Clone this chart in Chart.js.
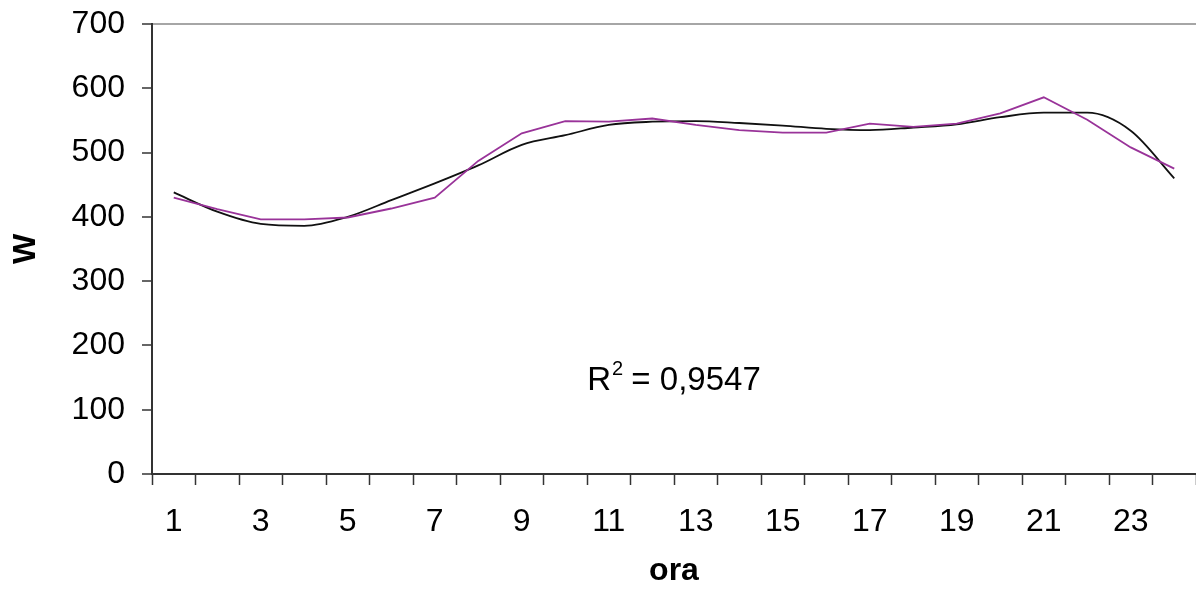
<!DOCTYPE html>
<html>
<head>
<meta charset="utf-8">
<script src="https://cdn.jsdelivr.net/npm/chart.js@4/dist/chart.umd.min.js"></script>
<style>
  body { margin: 0; background: #fff; }
  #wrap { width: 1196px; height: 590px; position: relative; }
</style>
</head>
<body>
<div id="wrap"><canvas id="myChart"></canvas></div>
<script>
// hours of the day and measured power (W), plus the fitted trend line
var hours = ['1','2','3','4','5','6','7','8','9','10','11','12','13','14','15','16','17','18','19','20','21','22','23','24'];
var power = [430, 412, 396, 396, 399, 413, 430, 487, 530, 549, 548, 553, 543, 535, 531, 531, 545, 540, 545, 561, 586, 551, 508, 475];
var trend = [438, 408, 389, 386, 400, 426, 452, 480, 512, 527, 543, 548, 549, 546, 542, 537, 535, 539, 544, 555, 562, 562, 534, 460];
var r2Text = '0,9547';
var r2AtValue = 150;

var fontFamily = "'Liberation Sans', Arial, sans-serif";

var r2Label = {
  id: 'r2Label',
  afterDatasetsDraw: function(chart) {
    var c = chart.ctx, area = chart.chartArea;
    var y = chart.scales.y.getPixelForValue(r2AtValue);
    c.save();
    c.fillStyle = '#000';
    c.textBaseline = 'alphabetic';
    c.font = '33px ' + fontFamily;
    var wR = c.measureText('R').width;
    var rest = ' = ' + r2Text;
    var wRest = c.measureText(rest).width;
    c.font = '20px ' + fontFamily;
    var w2 = c.measureText('2').width;
    var x = (area.left + area.right) / 2 - (wR + w2 + wRest) / 2;
    var base = y + 12;
    c.font = '33px ' + fontFamily;
    c.fillText('R', x, base);
    c.font = '20px ' + fontFamily;
    c.fillText('2', x + wR + 1, base - 15);
    c.font = '33px ' + fontFamily;
    c.fillText(rest, x + wR + w2, base);
    c.restore();
  }
};

var ctx = document.getElementById('myChart').getContext('2d');
var myChart = new Chart(ctx, {
  type: 'line',
  data: {
    labels: hours,
    datasets: [{
      data: power,
      label: 'W',
      borderColor: '#993399',
      borderWidth: 1.8,
      pointRadius: 0,
      tension: 0,
      fill: false
    }, {
      data: trend,
      label: 'trend',
      borderColor: '#111',
      borderWidth: 1.8,
      pointRadius: 0,
      cubicInterpolationMode: 'monotone',
      fill: false
    }]
  },
  options: {
    responsive: true,
    maintainAspectRatio: false,
    animation: false,
    layout: { padding: { top: 24, right: 0, left: 0, bottom: 0 } },
    plugins: {
      legend: { display: false },
      tooltip: { enabled: false }
    },
    scales: {
      x: {
        offset: true,
        grid: {
          offset: true,
          color: 'rgba(0,0,0,0)',
          tickColor: '#333',
          tickLength: 11,
          tickWidth: 1.5
        },
        border: { color: '#333', width: 2 },
        ticks: {
          autoSkip: false,
          maxRotation: 0,
          padding: 18,
          color: '#000',
          font: { family: fontFamily, size: 32 },
          callback: function(v, i) { return i % 2 === 0 ? hours[i] : ''; }
        },
        title: {
          display: true,
          text: 'ora',
          color: '#000',
          font: { family: fontFamily, size: 32, weight: 'bold' },
          padding: { top: 0, bottom: 0 }
        },
        afterFit: function(s) { s.height = 116; s.paddingLeft = 0; s.paddingRight = 0; }
      },
      y: {
        min: 0,
        max: 700,
        grid: {
          color: function(c) { return c.tick && c.tick.value === 700 ? '#a6a6a6' : 'rgba(0,0,0,0)'; },
          lineWidth: 2,
          tickColor: '#333',
          tickLength: 10,
          tickWidth: 1.5
        },
        border: { color: '#333', width: 2 },
        ticks: {
          stepSize: 100,
          padding: 17,
          color: '#000',
          font: { family: fontFamily, size: 32 }
        },
        title: {
          display: true,
          text: 'W',
          color: '#000',
          font: { family: fontFamily, size: 32, weight: 'bold' },
          padding: { top: 7, bottom: 0 }
        },
        afterFit: function(s) { s.width = 152; s.paddingTop = 0; s.paddingBottom = 0; }
      }
    }
  },
  plugins: [r2Label]
});
</script>
</body>
</html>
